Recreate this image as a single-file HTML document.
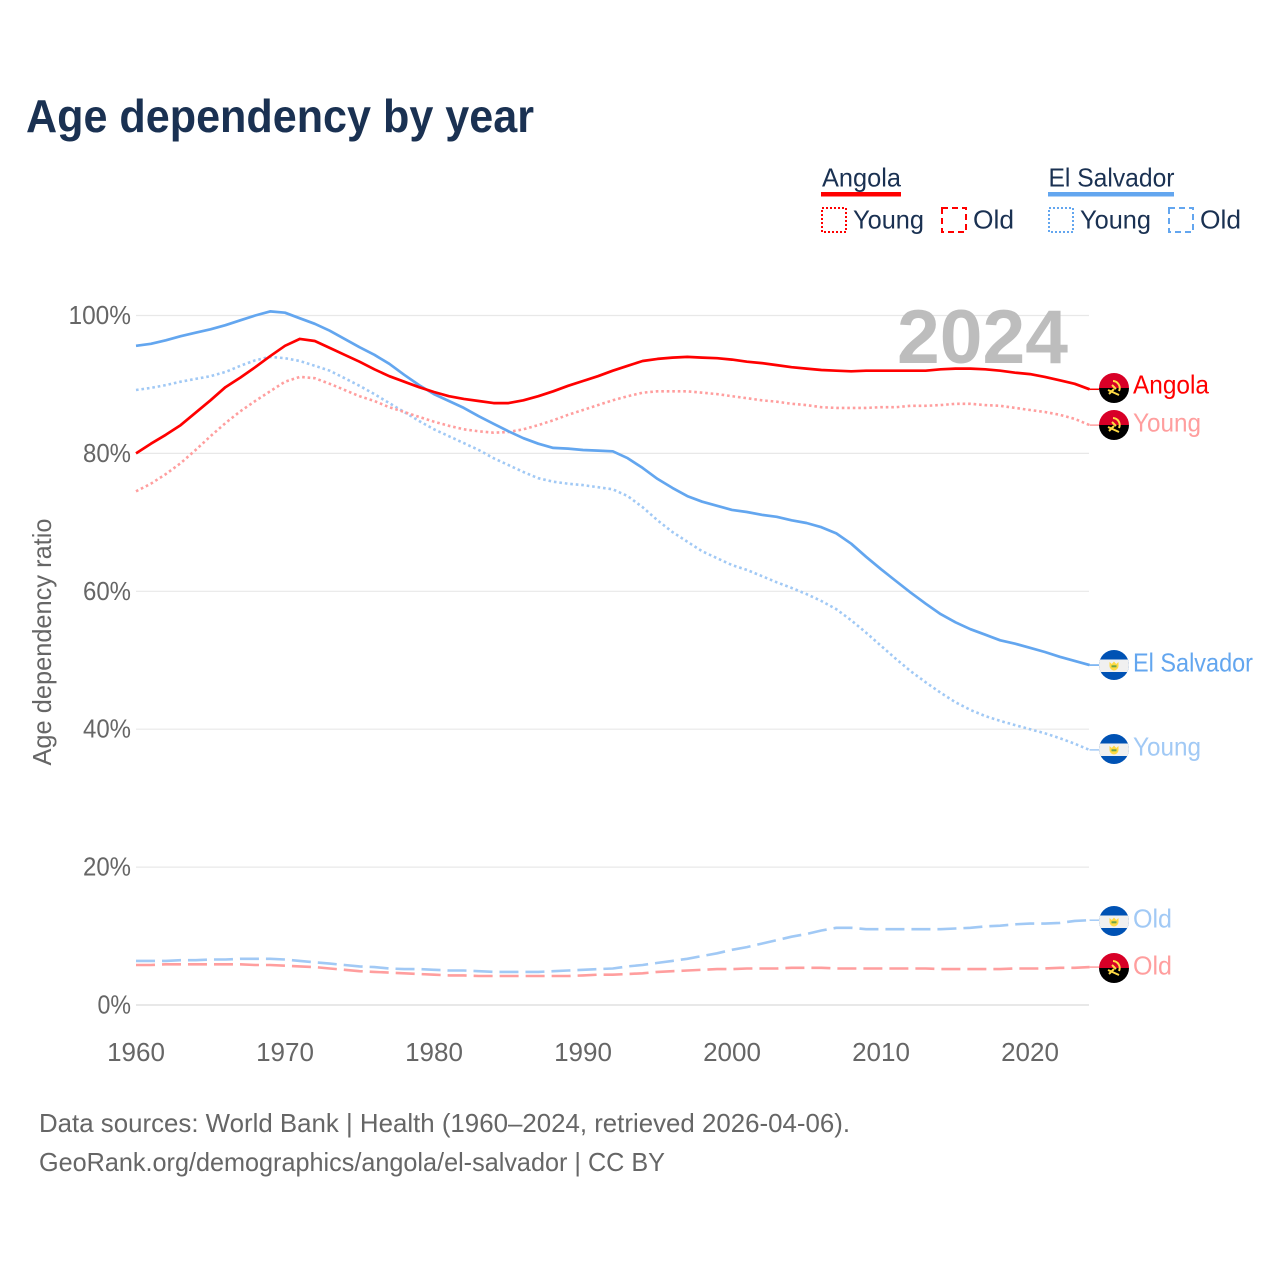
<!DOCTYPE html>
<html lang="en">
<head>
<meta charset="utf-8">
<title>Age dependency by year</title>
<style>
html,body{margin:0;padding:0;background:#fff;}
svg{display:block;font-family:"Liberation Sans",sans-serif;}
</style>
</head>
<body>
<svg id="chart" width="1280" height="1280" viewBox="0 0 1280 1280" xmlns="http://www.w3.org/2000/svg">
  <defs>
    <clipPath id="flag-clip"><circle cx="0" cy="0" r="15"/></clipPath>
    <g id="flag-angola" clip-path="url(#flag-clip)">
      <rect x="-15" y="-15" width="30" height="15" fill="#d80027"/>
      <rect x="-15" y="0" width="30" height="15" fill="#000"/>
      <path d="M-1-7A7 7 0 0 1 5 3" fill="none" stroke="#ffda44" stroke-width="2"/>
      <path d="M-6 2L5 7M-5 6L0 1M-2-3L2 1" fill="none" stroke="#ffda44" stroke-width="2"/>
    </g>
    <g id="flag-salvador" clip-path="url(#flag-clip)">
      <rect x="-15" y="-15" width="30" height="30" fill="#0052b4"/>
      <rect x="-15" y="-5.5" width="30" height="12.5" fill="#f0f0f0"/>
      <path d="M-4.5-3L-2.2-1L0-3.5L2.2-1L4.5-3V1A4.5 4.5 0 0 1-4.5 1Z" fill="#ffda44"/>
      <rect x="-2.5" y="0.3" width="5" height="2" fill="#6da544"/>
    </g>
  </defs>

  <text x="26" y="132" font-size="46" font-weight="700" fill="#1a3152" textLength="508" lengthAdjust="spacingAndGlyphs">Age dependency by year</text>

  <g>
    <g>
      <text x="822" y="186.5" font-size="26" fill="#1a3152" textLength="79" lengthAdjust="spacingAndGlyphs">Angola</text>
      <rect x="821" y="192" width="80" height="4.5" fill="#ff0000"/>
      <rect x="822" y="208" width="24" height="24" fill="none" stroke="#ff0000" stroke-width="2" stroke-dasharray="2 2"/>
      <text x="853" y="228.5" font-size="26" fill="#1a3152" textLength="71" lengthAdjust="spacingAndGlyphs">Young</text>
      <rect x="942" y="208" width="24" height="24" fill="none" stroke="#ff0000" stroke-width="2" stroke-dasharray="6 4"/>
      <text x="973" y="228.5" font-size="26" fill="#1a3152" textLength="41" lengthAdjust="spacingAndGlyphs">Old</text>
    </g>
    <g>
      <text x="1048.5" y="186.5" font-size="26" fill="#1a3152" textLength="126" lengthAdjust="spacingAndGlyphs">El Salvador</text>
      <rect x="1048" y="192" width="126" height="4.5" fill="#63a6ef"/>
      <rect x="1049" y="208" width="24" height="24" fill="none" stroke="#63a6ef" stroke-width="2" stroke-dasharray="2 2"/>
      <text x="1080" y="228.5" font-size="26" fill="#1a3152" textLength="71" lengthAdjust="spacingAndGlyphs">Young</text>
      <rect x="1169" y="208" width="24" height="24" fill="none" stroke="#63a6ef" stroke-width="2" stroke-dasharray="6 4"/>
      <text x="1200" y="228.5" font-size="26" fill="#1a3152" textLength="41" lengthAdjust="spacingAndGlyphs">Old</text>
    </g>
  </g>

  <g id="grid"></g>
  <text x="897" y="363" font-size="76" font-weight="700" fill="#bdbdbd" textLength="171" lengthAdjust="spacingAndGlyphs">2024</text>
  <g id="y-ticks"></g>
  <g id="x-ticks"></g>
  <text transform="translate(51,642) rotate(-90)" text-anchor="middle" font-size="26" fill="#666666" textLength="247" lengthAdjust="spacingAndGlyphs">Age dependency ratio</text>
  <g id="series"></g>

  <g>
    <use href="#flag-angola" x="1114" y="388"/>
    <text x="1133" y="393.5" font-size="26" fill="#ff0000" textLength="76" lengthAdjust="spacingAndGlyphs">Angola</text>
    <use href="#flag-angola" x="1114" y="425"/>
    <text x="1133" y="431.5" font-size="26" fill="#ff9e9e" textLength="68" lengthAdjust="spacingAndGlyphs">Young</text>
    <use href="#flag-salvador" x="1114" y="665"/>
    <text x="1133" y="671.5" font-size="26" fill="#63a6ef" textLength="120" lengthAdjust="spacingAndGlyphs">El Salvador</text>
    <use href="#flag-salvador" x="1114" y="749"/>
    <text x="1133" y="755.5" font-size="26" fill="#a1c9f5" textLength="68" lengthAdjust="spacingAndGlyphs">Young</text>
    <use href="#flag-salvador" x="1114" y="921"/>
    <text x="1133" y="927.5" font-size="26" fill="#a1c9f5" textLength="39" lengthAdjust="spacingAndGlyphs">Old</text>
    <use href="#flag-angola" x="1114" y="968"/>
    <text x="1133" y="974.5" font-size="26" fill="#ff9e9e" textLength="39" lengthAdjust="spacingAndGlyphs">Old</text>
  </g>

  <text x="39" y="1132" font-size="26" fill="#666666" textLength="811" lengthAdjust="spacingAndGlyphs">Data sources: World Bank | Health (1960–2024, retrieved 2026-04-06).</text>
  <text x="39" y="1171" font-size="26" fill="#666666" textLength="626" lengthAdjust="spacingAndGlyphs">GeoRank.org/demographics/angola/el-salvador | CC BY</text>
</svg>

<script>
const startYear = 1960;
const xTickYears = [1960, 1970, 1980, 1990, 2000, 2010, 2020];
const yTickValues = [0, 20, 40, 60, 80, 100];

const angolaTotal = [80.0,81.4,82.7,84.1,85.9,87.7,89.6,91.0,92.5,94.1,95.6,96.6,96.3,95.3,94.3,93.3,92.2,91.2,90.4,89.6,88.9,88.3,87.9,87.6,87.3,87.3,87.7,88.3,89.0,89.8,90.5,91.2,92.0,92.7,93.4,93.7,93.9,94.0,93.9,93.8,93.6,93.3,93.1,92.8,92.5,92.3,92.1,92.0,91.9,92.0,92.0,92.0,92.0,92.0,92.2,92.3,92.3,92.2,92.0,91.7,91.5,91.1,90.6,90.1,89.3];
const angolaYoung = [74.5,75.6,77.0,78.6,80.5,82.5,84.4,86.1,87.6,89.0,90.4,91.1,90.9,90.1,89.2,88.3,87.6,86.7,86.0,85.3,84.6,84.0,83.5,83.2,83.0,83.1,83.5,84.1,84.8,85.6,86.3,87.0,87.7,88.3,88.8,89.0,89.0,89.0,88.8,88.6,88.3,88.0,87.7,87.5,87.2,87.0,86.7,86.6,86.6,86.6,86.7,86.7,86.9,86.9,87.0,87.2,87.2,87.0,86.9,86.6,86.3,86.0,85.6,85.0,84.1];
const angolaOld = [5.8,5.8,5.9,5.9,5.9,5.9,5.9,5.9,5.8,5.8,5.7,5.6,5.5,5.3,5.1,4.9,4.8,4.7,4.6,4.5,4.4,4.3,4.3,4.2,4.2,4.2,4.2,4.2,4.2,4.2,4.3,4.4,4.4,4.5,4.6,4.8,4.9,5.0,5.1,5.2,5.2,5.3,5.3,5.3,5.4,5.4,5.4,5.3,5.3,5.3,5.3,5.3,5.3,5.3,5.2,5.2,5.2,5.2,5.2,5.3,5.3,5.3,5.4,5.4,5.5];
const salvadorTotal = [95.6,95.9,96.4,97.0,97.5,98.0,98.6,99.3,100.0,100.6,100.4,99.6,98.8,97.8,96.6,95.4,94.3,93.0,91.4,89.9,88.6,87.6,86.6,85.4,84.3,83.2,82.2,81.4,80.8,80.7,80.5,80.4,80.3,79.3,77.9,76.3,75.0,73.8,73.0,72.4,71.8,71.5,71.1,70.8,70.3,69.9,69.3,68.4,66.9,65.0,63.2,61.5,59.8,58.2,56.7,55.5,54.5,53.7,52.9,52.4,51.8,51.2,50.5,49.9,49.3];
const salvadorYoung = [89.2,89.5,89.9,90.4,90.8,91.2,91.8,92.7,93.5,94.0,93.8,93.4,92.7,92.0,90.9,89.8,88.6,87.3,86.0,84.7,83.5,82.5,81.5,80.5,79.3,78.3,77.3,76.4,75.9,75.6,75.4,75.1,74.8,73.8,72.2,70.3,68.6,67.2,65.8,64.8,63.8,63.1,62.2,61.3,60.5,59.6,58.6,57.4,55.8,54.0,52.1,50.2,48.4,46.8,45.3,43.9,42.8,41.9,41.2,40.6,40.0,39.4,38.7,37.9,37.0];
const salvadorOld = [6.4,6.4,6.4,6.5,6.5,6.6,6.6,6.7,6.7,6.7,6.6,6.4,6.2,6.0,5.8,5.6,5.5,5.3,5.2,5.2,5.1,5.0,5.0,4.9,4.8,4.8,4.8,4.8,4.9,5.0,5.1,5.2,5.3,5.6,5.8,6.1,6.4,6.7,7.1,7.5,8.0,8.4,8.9,9.4,9.9,10.3,10.8,11.2,11.2,11.0,11.0,11.0,11.0,11.0,11.0,11.1,11.2,11.4,11.5,11.7,11.8,11.8,11.9,12.2,12.3];

const SVG_NS = 'http://www.w3.org/2000/svg';
function xScale(year) { return 136 + (year - startYear) * 14.9; }
function yScale(value) { return 1005 - value * 6.895; }

const gridGroup = document.getElementById('grid');
const yTickGroup = document.getElementById('y-ticks');
const xTickGroup = document.getElementById('x-ticks');
const seriesGroup = document.getElementById('series');

yTickValues.forEach(function (v) {
  const line = document.createElementNS(SVG_NS, 'line');
  line.setAttribute('x1', 136);
  line.setAttribute('x2', 1089);
  line.setAttribute('y1', yScale(v));
  line.setAttribute('y2', yScale(v));
  line.setAttribute('stroke', '#e8e8e8');
  line.setAttribute('stroke-width', v === 0 ? 2 : 1.2);
  
  
  gridGroup.appendChild(line);

  const label = document.createElementNS(SVG_NS, 'text');
  label.textContent = v + '%';
  label.setAttribute('x', 131);
  label.setAttribute('y', yScale(v) + 8.5);
  label.setAttribute('text-anchor', 'end');
  label.setAttribute('font-size', 26);
  label.setAttribute('fill', '#666666');
  label.setAttribute('textLength', String(v).length * 14.5 + 19);
  label.setAttribute('lengthAdjust', 'spacingAndGlyphs');
  
  
  yTickGroup.appendChild(label);
});

xTickYears.forEach(function (yr) {
  const label = document.createElementNS(SVG_NS, 'text');
  label.textContent = String(yr);
  label.setAttribute('x', xScale(yr));
  label.setAttribute('y', 1061);
  label.setAttribute('text-anchor', 'middle');
  label.setAttribute('font-size', 26);
  label.setAttribute('fill', '#666666');
  
  
  xTickGroup.appendChild(label);
});

function pathFor(values) {
  return values.map(function (v, i) {
    return (i ? 'L' : 'M') + xScale(startYear + i).toFixed(1) + ' ' + yScale(v).toFixed(1);
  }).join('');
}

function drawSeries(values, color, dash, width) {
  const path = document.createElementNS(SVG_NS, 'path');
  path.setAttribute('d', pathFor(values));
  path.setAttribute('fill', 'none');
  path.setAttribute('stroke', color);
  path.setAttribute('stroke-width', width);
  path.setAttribute('stroke-linejoin', 'round');
  if (dash) path.setAttribute('stroke-dasharray', dash);
  
  
  seriesGroup.appendChild(path);

  const last = values[values.length - 1];
  const connector = document.createElementNS(SVG_NS, 'line');
  connector.setAttribute('x1', xScale(startYear + values.length - 1));
  connector.setAttribute('x2', 1099);
  connector.setAttribute('y1', yScale(last));
  connector.setAttribute('y2', yScale(last));
  connector.setAttribute('stroke', color);
  connector.setAttribute('stroke-width', 1.5);
  
  
  seriesGroup.appendChild(connector);
}

drawSeries(salvadorOld, '#a1c9f5', '19 7', 2.6);
drawSeries(angolaOld, '#ff9e9e', '19 7', 2.6);
drawSeries(salvadorYoung, '#a1c9f5', '2.6 2.9', 2.6);
drawSeries(angolaYoung, '#ff9e9e', '2.6 2.9', 2.6);
drawSeries(salvadorTotal, '#63a6ef', null, 2.7);
drawSeries(angolaTotal, '#ff0000', null, 2.7);
</script>
</body>
</html>
